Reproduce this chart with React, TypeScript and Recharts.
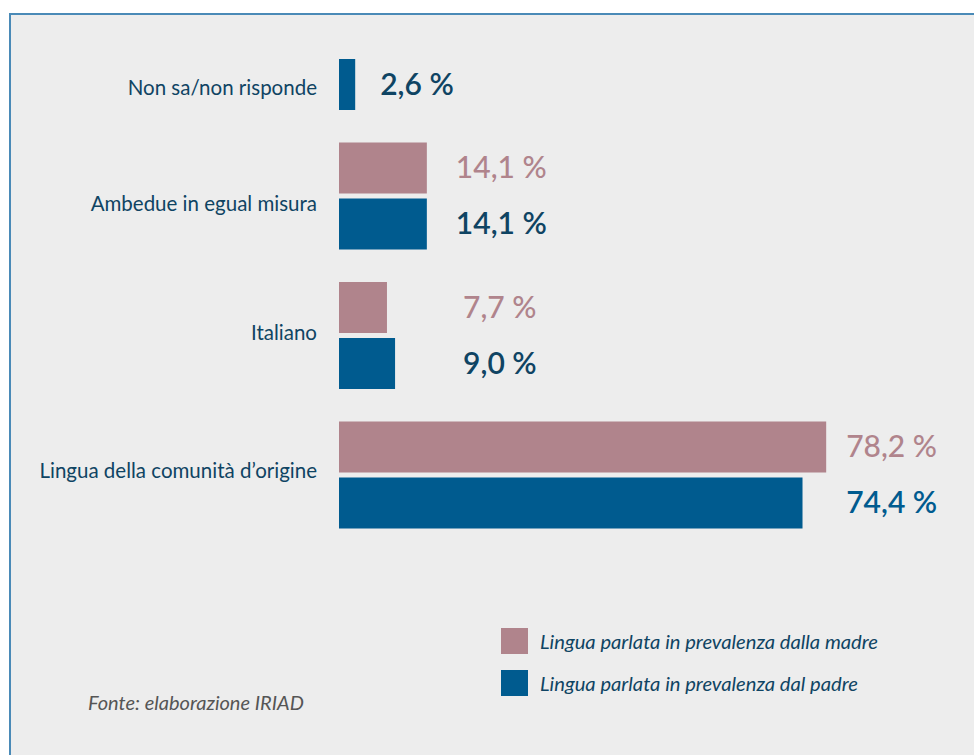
import { Bar, BarChart, LabelList, XAxis, YAxis } from 'recharts'

const categories = ['Non sa/non risponde', 'Ambedue in egual misura', 'Italiano', 'Lingua della comunità d’origine']
const madre = [null, 14.1, 7.7, 78.2]
const padre = [2.6, 14.1, 9.0, 74.4]
const seriesNames = ['Lingua parlata in prevalenza dalla madre', 'Lingua parlata in prevalenza dal padre']

const PINK = '#b0848c'
const BLUE = '#005b8f'
const NAVY = '#0f4463'
const BAR_SIZE = 51
const BAR_GAP = 5
// hand placement of the original: value label gap after the longer bar, tick nudge
const labelGaps = [25, 29, 68, 20]
const tickNudges = [3, 8, -3, -4]

const data = categories.map((name, i) => ({ name, madre: madre[i], padre: padre[i] }))

function CategoryTick({ x, y, payload, index }: any) {
  const shift = (madre[index] == null ? (BAR_SIZE + BAR_GAP) / 2 : 0) + tickNudges[index]
  return (
    <text x={x - 14} y={y + shift} dy={7} textAnchor="end" fill={NAVY} fontSize={20.5} fontFamily="Lato">
      {payload.value}
    </text>
  )
}

function valueLabel(key: 'madre' | 'padre', colorFor: (i: number) => string, weight: number) {
  return (props: any) => {
    const { x, y, width, height, value: row } = props
    if (!row || row[key] == null) return null
    const i = categories.indexOf(row.name)
    const v = row[key] as number
    const perUnit = width / v
    const groupMax = Math.max(madre[i] ?? 0, padre[i] ?? 0)
    const lx = x + groupMax * perUnit + labelGaps[i]
    return (
      <text x={lx} y={y + height / 2} dy={10} fill={colorFor(i)} fontSize={30} fontWeight={weight} fontFamily="Lato">
        {v.toFixed(1).replace('.', ',')} %
      </text>
    )
  }
}

function LegendBox() {
  const colors = [PINK, BLUE]
  return (
    <div>
      {seriesNames.map((n, i) => (
        <div key={n} style={{ display: 'flex', alignItems: 'center', height: 42 }}>
          <div style={{ width: 27, height: 26, background: colors[i], marginRight: 12 }} />
          <span style={{ fontFamily: 'Lato', fontStyle: 'italic', fontSize: 20.2, color: NAVY }}>{n}</span>
        </div>
      ))}
    </div>
  )
}

export default function App() {
  return (
    <div style={{ position: 'relative', width: 974, height: 755, background: '#fff', overflow: 'hidden' }}>
      <style>{'body{margin:0}'}</style>
      <div
        style={{
          position: 'absolute',
          left: 9,
          top: 13,
          right: 0,
          bottom: 0,
          background: '#ededed',
          borderTop: '2px solid #4a8ab7',
          borderLeft: '2px solid #4a8ab7',
        }}
      />
      <div style={{ position: 'absolute', left: 0, top: -30 }}>
        <BarChart
          width={974}
          height={600}
          data={data}
          layout="vertical"
          barSize={BAR_SIZE}
          barGap={BAR_GAP}
          margin={{ top: 17, right: 12, bottom: 25, left: 0 }}
        >
          <XAxis type="number" domain={[0, 100]} hide />
          <YAxis
            type="category"
            dataKey="name"
            width={339}
            axisLine={false}
            tickLine={false}
            tick={<CategoryTick />}
            interval={0}
          />
          <Bar dataKey="madre" fill={PINK} isAnimationActive={false}>
            <LabelList valueAccessor={(e: any) => e.payload} content={valueLabel('madre', () => PINK, 500)} />
          </Bar>
          <Bar dataKey="padre" fill={BLUE} isAnimationActive={false}>
            <LabelList
              valueAccessor={(e: any) => e.payload}
              content={valueLabel('padre', (i) => (i === 3 ? BLUE : NAVY), 600)}
            />
          </Bar>
        </BarChart>
      </div>
      <div style={{ position: 'absolute', left: 501, top: 620 }}>
        <LegendBox />
      </div>
      <div
        style={{
          position: 'absolute',
          left: 88,
          top: 690,
          fontFamily: 'Lato',
          fontStyle: 'italic',
          fontSize: 20,
          color: '#555',
        }}
      >
        Fonte: elaborazione IRIAD
      </div>
    </div>
  )
}
